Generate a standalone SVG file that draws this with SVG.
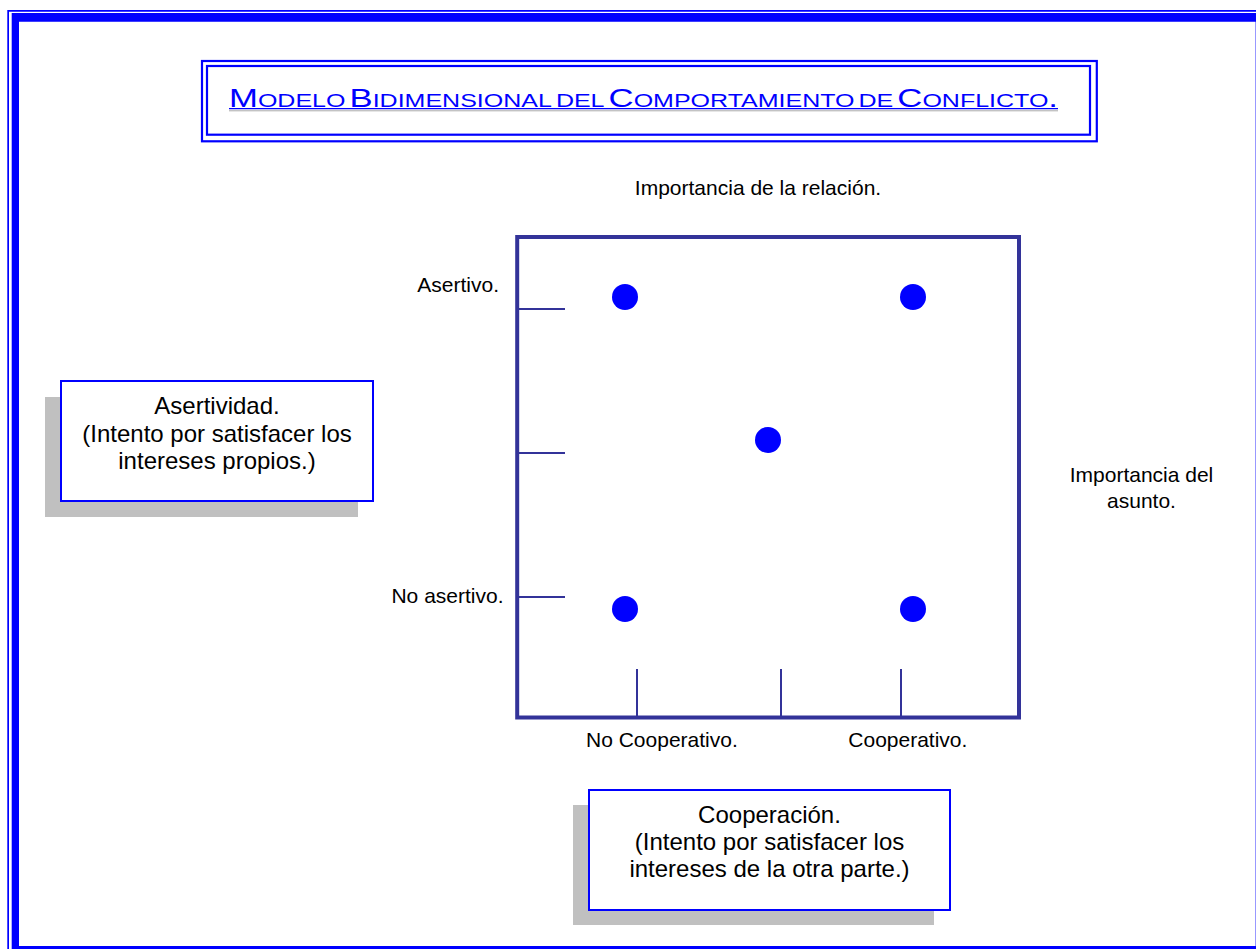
<svg xmlns="http://www.w3.org/2000/svg" width="1256" height="949" viewBox="0 0 1256 949">
<defs>
<style>
.lbl{font-family:"Liberation Sans",Arial,sans-serif;font-size:21px;fill:#000}
.box{font-family:"Liberation Sans",Arial,sans-serif;font-size:24px;fill:#000;text-anchor:middle}
.axis{fill:none;stroke:#333399}
.tick{stroke:#333399;stroke-width:2}
.dot{fill:#0000FF}
.shadow{fill:#C0C0C0}
.note{fill:#fff;stroke:#0000FF;stroke-width:2}
.title{font-family:"Liberation Sans",Arial,sans-serif;font-size:25px;font-variant:small-caps;fill:#0000FF;word-spacing:-4px}
</style>
</defs>
<rect x="0" y="0" width="1256" height="949" fill="#fff"/>
<g id="frame">
<path d="M7.3 10H1290V990H7.3Z M9 11.7V980H1280V11.7Z" fill="#0000FF" fill-rule="evenodd"/>
<path d="M11.7 13H1285V985H11.7Z M19 21.7V946H1255.6V21.7Z" fill="#0000FF" fill-rule="evenodd"/>
</g>
<g id="title">
<rect x="202" y="61" width="894.8" height="80.3" fill="none" stroke="#0000FF" stroke-width="2.2"/>
<rect x="207" y="66" width="883" height="68.7" fill="none" stroke="#0000FF" stroke-width="2.2"/>
<text class="title" x="229" y="106.5" textLength="829" lengthAdjust="spacingAndGlyphs">Modelo Bidimensional del Comportamiento de Conflicto.</text>
<line x1="229" y1="110.8" x2="1058" y2="110.8" stroke="#aaaaaa" stroke-width="1"/>
<line x1="229" y1="108.6" x2="1058" y2="108.6" stroke="#0000FF" stroke-width="1.4"/>
</g>
<g id="chart">
<rect class="axis" x="517.2" y="237" width="501.8" height="480.5" stroke-width="4"/>
</g>
<g id="connectors">
<line class="tick" x1="519" y1="309" x2="565" y2="309"/>
<line class="tick" x1="519" y1="453" x2="565" y2="453"/>
<line class="tick" x1="519" y1="597" x2="565" y2="597"/>
<line class="tick" x1="637" y1="669" x2="637" y2="716"/>
<line class="tick" x1="781" y1="669" x2="781" y2="716"/>
<line class="tick" x1="901" y1="669" x2="901" y2="716"/>
</g>
<g id="dot-tl"><circle class="dot" cx="625" cy="297" r="13"/></g>
<g id="dot-tr"><circle class="dot" cx="913" cy="297" r="13"/></g>
<g id="dot-c"><circle class="dot" cx="768" cy="440" r="13"/></g>
<g id="dot-bl"><circle class="dot" cx="625" cy="609" r="13"/></g>
<g id="dot-br"><circle class="dot" cx="913" cy="609" r="13"/></g>
<g id="labels">
<text class="lbl" x="758" y="195" text-anchor="middle">Importancia de la relación.</text>
<text class="lbl" x="499" y="291.5" text-anchor="end">Asertivo.</text>
<text class="lbl" x="503.5" y="603.3" text-anchor="end">No asertivo.</text>
<text class="lbl" x="586" y="746.7">No Cooperativo.</text>
<text class="lbl" x="848.3" y="746.7">Cooperativo.</text>
<text class="lbl" x="1141.5" y="482" text-anchor="middle">Importancia del</text>
<text class="lbl" x="1141.5" y="508" text-anchor="middle">asunto.</text>
</g>
<g id="asertividad">
<rect class="shadow" x="45" y="397" width="313" height="120"/>
<rect class="note" x="61" y="381" width="312" height="120"/>
<text class="box" x="217" y="414">Asertividad.</text>
<text class="box" x="217" y="442">(Intento por satisfacer los</text>
<text class="box" x="217" y="469">intereses propios.)</text>
</g>
<g id="cooperacion">
<rect class="shadow" x="573" y="805" width="361" height="120"/>
<rect class="note" x="589" y="790" width="361" height="120"/>
<text class="box" x="769.5" y="823">Cooperación.</text>
<text class="box" x="769.5" y="850">(Intento por satisfacer los</text>
<text class="box" x="769.5" y="877">intereses de la otra parte.)</text>
</g>
</svg>
